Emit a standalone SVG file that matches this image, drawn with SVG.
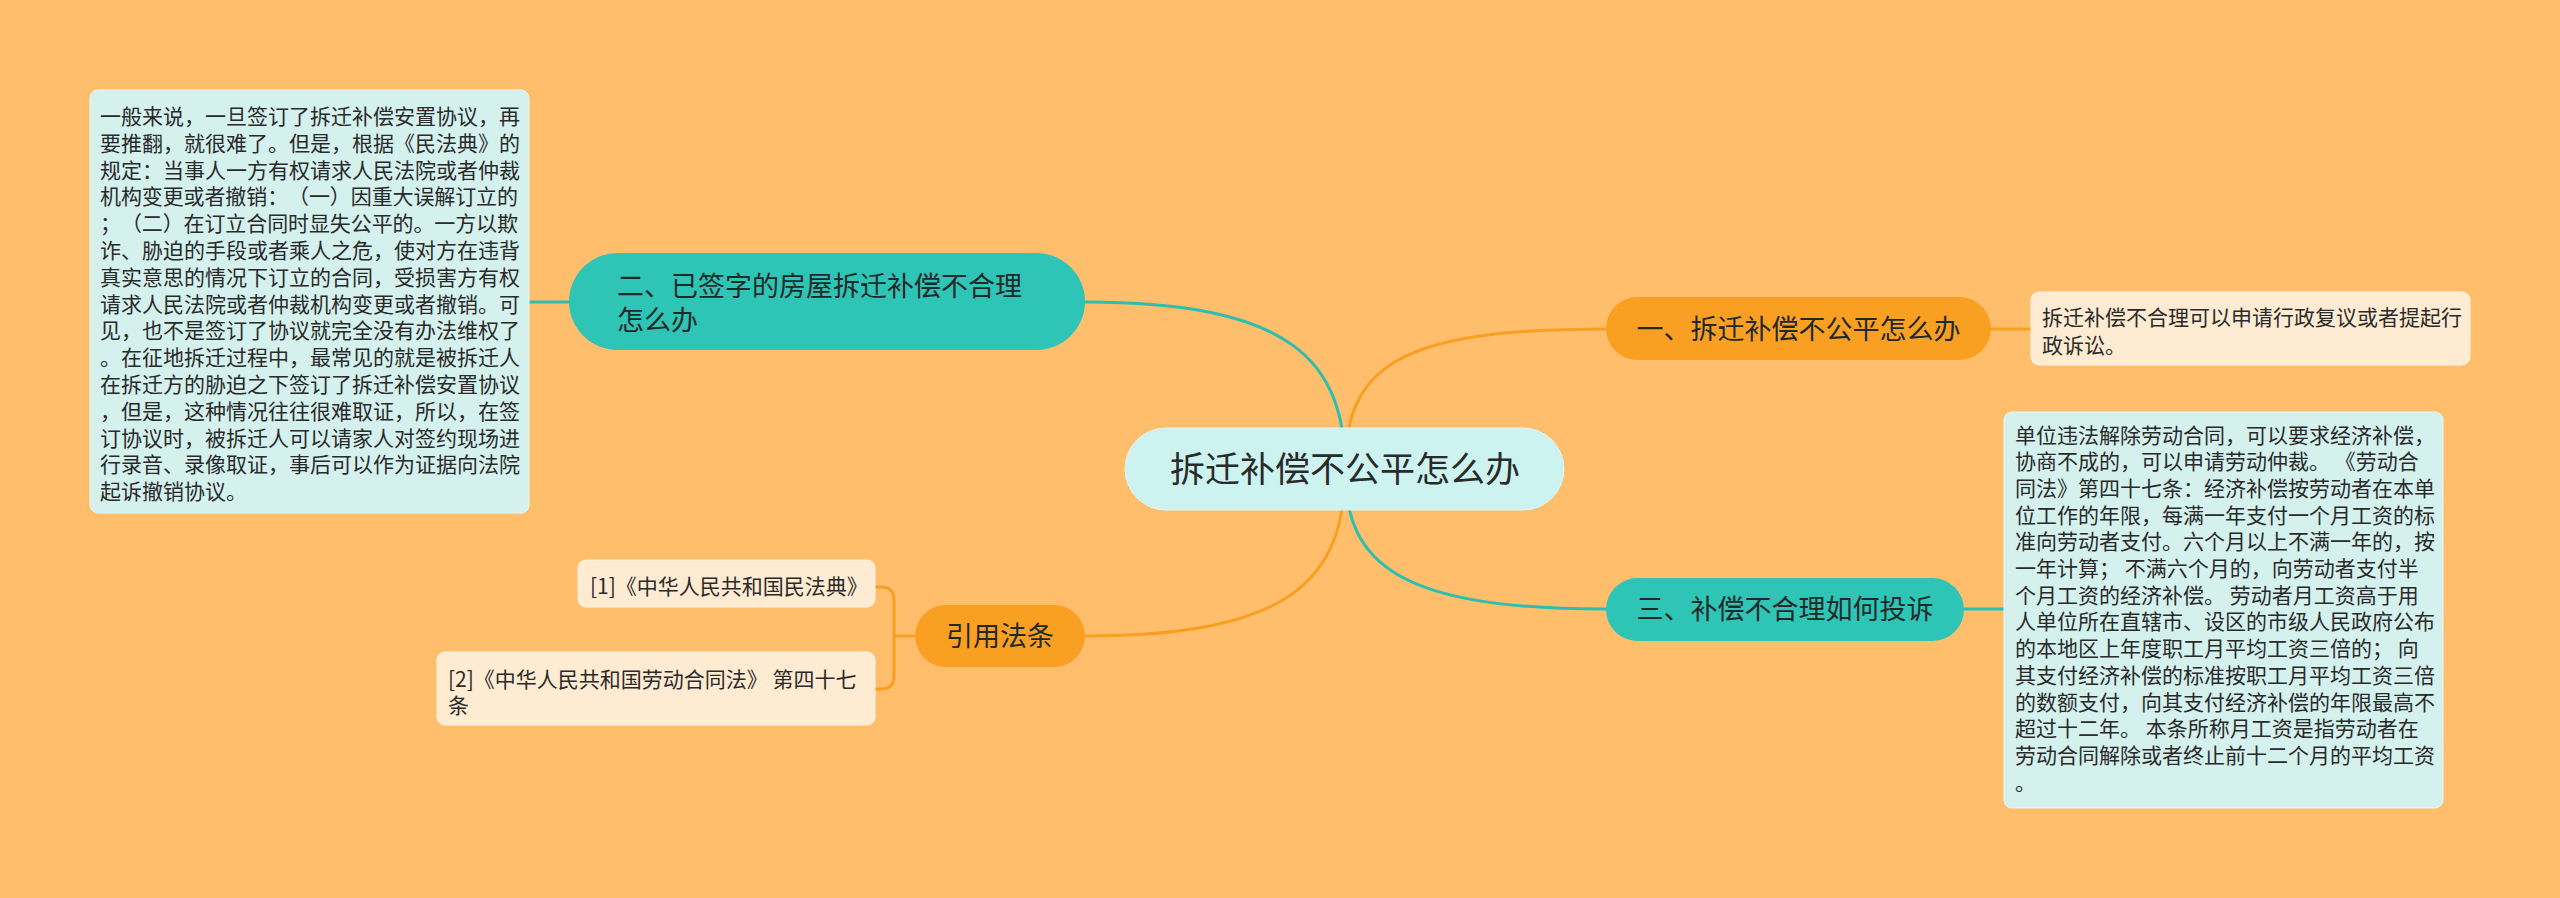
<svg xmlns="http://www.w3.org/2000/svg" width="2560" height="898" viewBox="0 0 2560 898">
<style>
text{font-family:"Noto Sans CJK SC","Noto Sans",sans-serif;text-spacing-trim:space-all;}
.conn{fill:none;stroke-width:3;stroke-linecap:round;}
.teal{stroke:#2BBFB1;}
.orng{stroke:#F79F20;}
.note{fill:#D4F1EE;stroke:#E6F7F5;stroke-width:1;}
.leaf{fill:#FFEBD2;stroke:#FFF3E3;stroke-width:1;}
.ntx{font-size:21px;fill:#2a2a2a;}
.l1t{font-size:27px;fill:#1f2a28;}
</style>
<rect width="2560" height="898" fill="#FFBE6B"/>
<g id="connectors">
<path class="conn orng" d="M1345,469 C1345,365 1400,329 1606,329"/>
<path class="conn teal" d="M1345,469 C1345,565 1400,609 1606,609"/>
<path class="conn teal" d="M1345,469 C1345,360 1290,302 1085,302"/>
<path class="conn orng" d="M1345,469 C1345,580 1290,636 1085,636"/>
<path class="conn orng" d="M1991,329 H2031"/>
<path class="conn teal" d="M1964,609 H2004"/>
<path class="conn teal" d="M569,302 H529"/>
<path class="conn orng" d="M915,636 H894 M894,636 V600 Q894,587 881,587 H875 M894,636 V676 Q894,689 881,689 H875"/>
</g>
<g id="center">
<rect x="1125" y="428" width="439" height="82" rx="41" fill="#CCF3F0" stroke="#E0F8F6" stroke-width="1"/>
<text x="1345" y="481.5" text-anchor="middle" font-size="35" fill="#2a2a2a">拆迁补偿不公平怎么办</text>
</g>
<g id="node1">
<rect x="1606" y="297" width="385" height="63" rx="31.5" fill="#F9A023"/>
<text class="l1t" x="1798.5" y="338.5" text-anchor="middle">一、拆迁补偿不公平怎么办</text>
</g>
<g id="leaf1">
<rect class="leaf" x="2031" y="292" width="439" height="73" rx="8"/>
<text class="ntx" x="2042" y="324.5">拆迁补偿不合理可以申请行政复议或者提起行</text>
<text class="ntx" x="2042" y="352.5">政诉讼。</text>
</g>
<g id="node3">
<rect x="1606" y="578" width="358" height="63" rx="31.5" fill="#2EC4B6"/>
<text class="l1t" x="1785" y="618.5" text-anchor="middle">三、补偿不合理如何投诉</text>
</g>
<g id="leaf3">
<rect class="note" x="2004" y="412" width="439" height="396" rx="8"/>
<text class="ntx" x="2015" y="442.5">单位违法解除劳动合同，可以要求经济补偿，</text>
<text class="ntx" x="2015" y="469.2">协商不成的，可以申请劳动仲裁。 《劳动合</text>
<text class="ntx" x="2015" y="495.9">同法》第四十七条：经济补偿按劳动者在本单</text>
<text class="ntx" x="2015" y="522.6">位工作的年限，每满一年支付一个月工资的标</text>
<text class="ntx" x="2015" y="549.3">准向劳动者支付。六个月以上不满一年的，按</text>
<text class="ntx" x="2015" y="576">一年计算； 不满六个月的，向劳动者支付半</text>
<text class="ntx" x="2015" y="602.7">个月工资的经济补偿。 劳动者月工资高于用</text>
<text class="ntx" x="2015" y="629.4">人单位所在直辖市、设区的市级人民政府公布</text>
<text class="ntx" x="2015" y="656.1">的本地区上年度职工月平均工资三倍的； 向</text>
<text class="ntx" x="2015" y="682.8">其支付经济补偿的标准按职工月平均工资三倍</text>
<text class="ntx" x="2015" y="709.5">的数额支付，向其支付经济补偿的年限最高不</text>
<text class="ntx" x="2015" y="736.2">超过十二年。 本条所称月工资是指劳动者在</text>
<text class="ntx" x="2015" y="762.9">劳动合同解除或者终止前十二个月的平均工资</text>
<text class="ntx" x="2015" y="789.6">。</text>
</g>
<g id="node2">
<rect x="569" y="253" width="516" height="97" rx="48.5" fill="#2EC4B6"/>
<text class="l1t" x="617" y="296">二、已签字的房屋拆迁补偿不合理</text>
<text class="l1t" x="617" y="330">怎么办</text>
</g>
<g id="leaf2">
<rect class="note" x="90" y="90" width="439" height="423" rx="8"/>
<text class="ntx" x="100" y="124">一般来说，一旦签订了拆迁补偿安置协议，再</text>
<text class="ntx" x="100" y="150.8">要推翻，就很难了。但是，根据《民法典》的</text>
<text class="ntx" x="100" y="177.6">规定：当事人一方有权请求人民法院或者仲裁</text>
<text class="ntx" x="100" y="204.4" textLength="418" lengthAdjust="spacing">机构变更或者撤销：（一）因重大误解订立的</text>
<text class="ntx" x="100" y="231.2" textLength="418" lengthAdjust="spacing">；（二）在订立合同时显失公平的。一方以欺</text>
<text class="ntx" x="100" y="258">诈、胁迫的手段或者乘人之危，使对方在违背</text>
<text class="ntx" x="100" y="284.8">真实意思的情况下订立的合同，受损害方有权</text>
<text class="ntx" x="100" y="311.6">请求人民法院或者仲裁机构变更或者撤销。可</text>
<text class="ntx" x="100" y="338.4">见，也不是签订了协议就完全没有办法维权了</text>
<text class="ntx" x="100" y="365.2">。在征地拆迁过程中，最常见的就是被拆迁人</text>
<text class="ntx" x="100" y="392">在拆迁方的胁迫之下签订了拆迁补偿安置协议</text>
<text class="ntx" x="100" y="418.8">，但是，这种情况往往很难取证，所以，在签</text>
<text class="ntx" x="100" y="445.6">订协议时，被拆迁人可以请家人对签约现场进</text>
<text class="ntx" x="100" y="472.4">行录音、录像取证，事后可以作为证据向法院</text>
<text class="ntx" x="100" y="499.2">起诉撤销协议。</text>
</g>
<g id="node4">
<rect x="915" y="605" width="170" height="62" rx="31" fill="#F9A023"/>
<text class="l1t" x="1000" y="645.5" text-anchor="middle">引用法条</text>
</g>
<g id="ref1">
<rect class="leaf" x="578" y="560" width="297" height="47" rx="8"/>
<text class="ntx" x="590" y="594">[1]《中华人民共和国民法典》</text>
</g>
<g id="ref2">
<rect class="leaf" x="437" y="652" width="438" height="73" rx="8"/>
<text class="ntx" x="448" y="686.5">[2]《中华人民共和国劳动合同法》 第四十七</text>
<text class="ntx" x="448" y="713">条</text>
</g>
</svg>
